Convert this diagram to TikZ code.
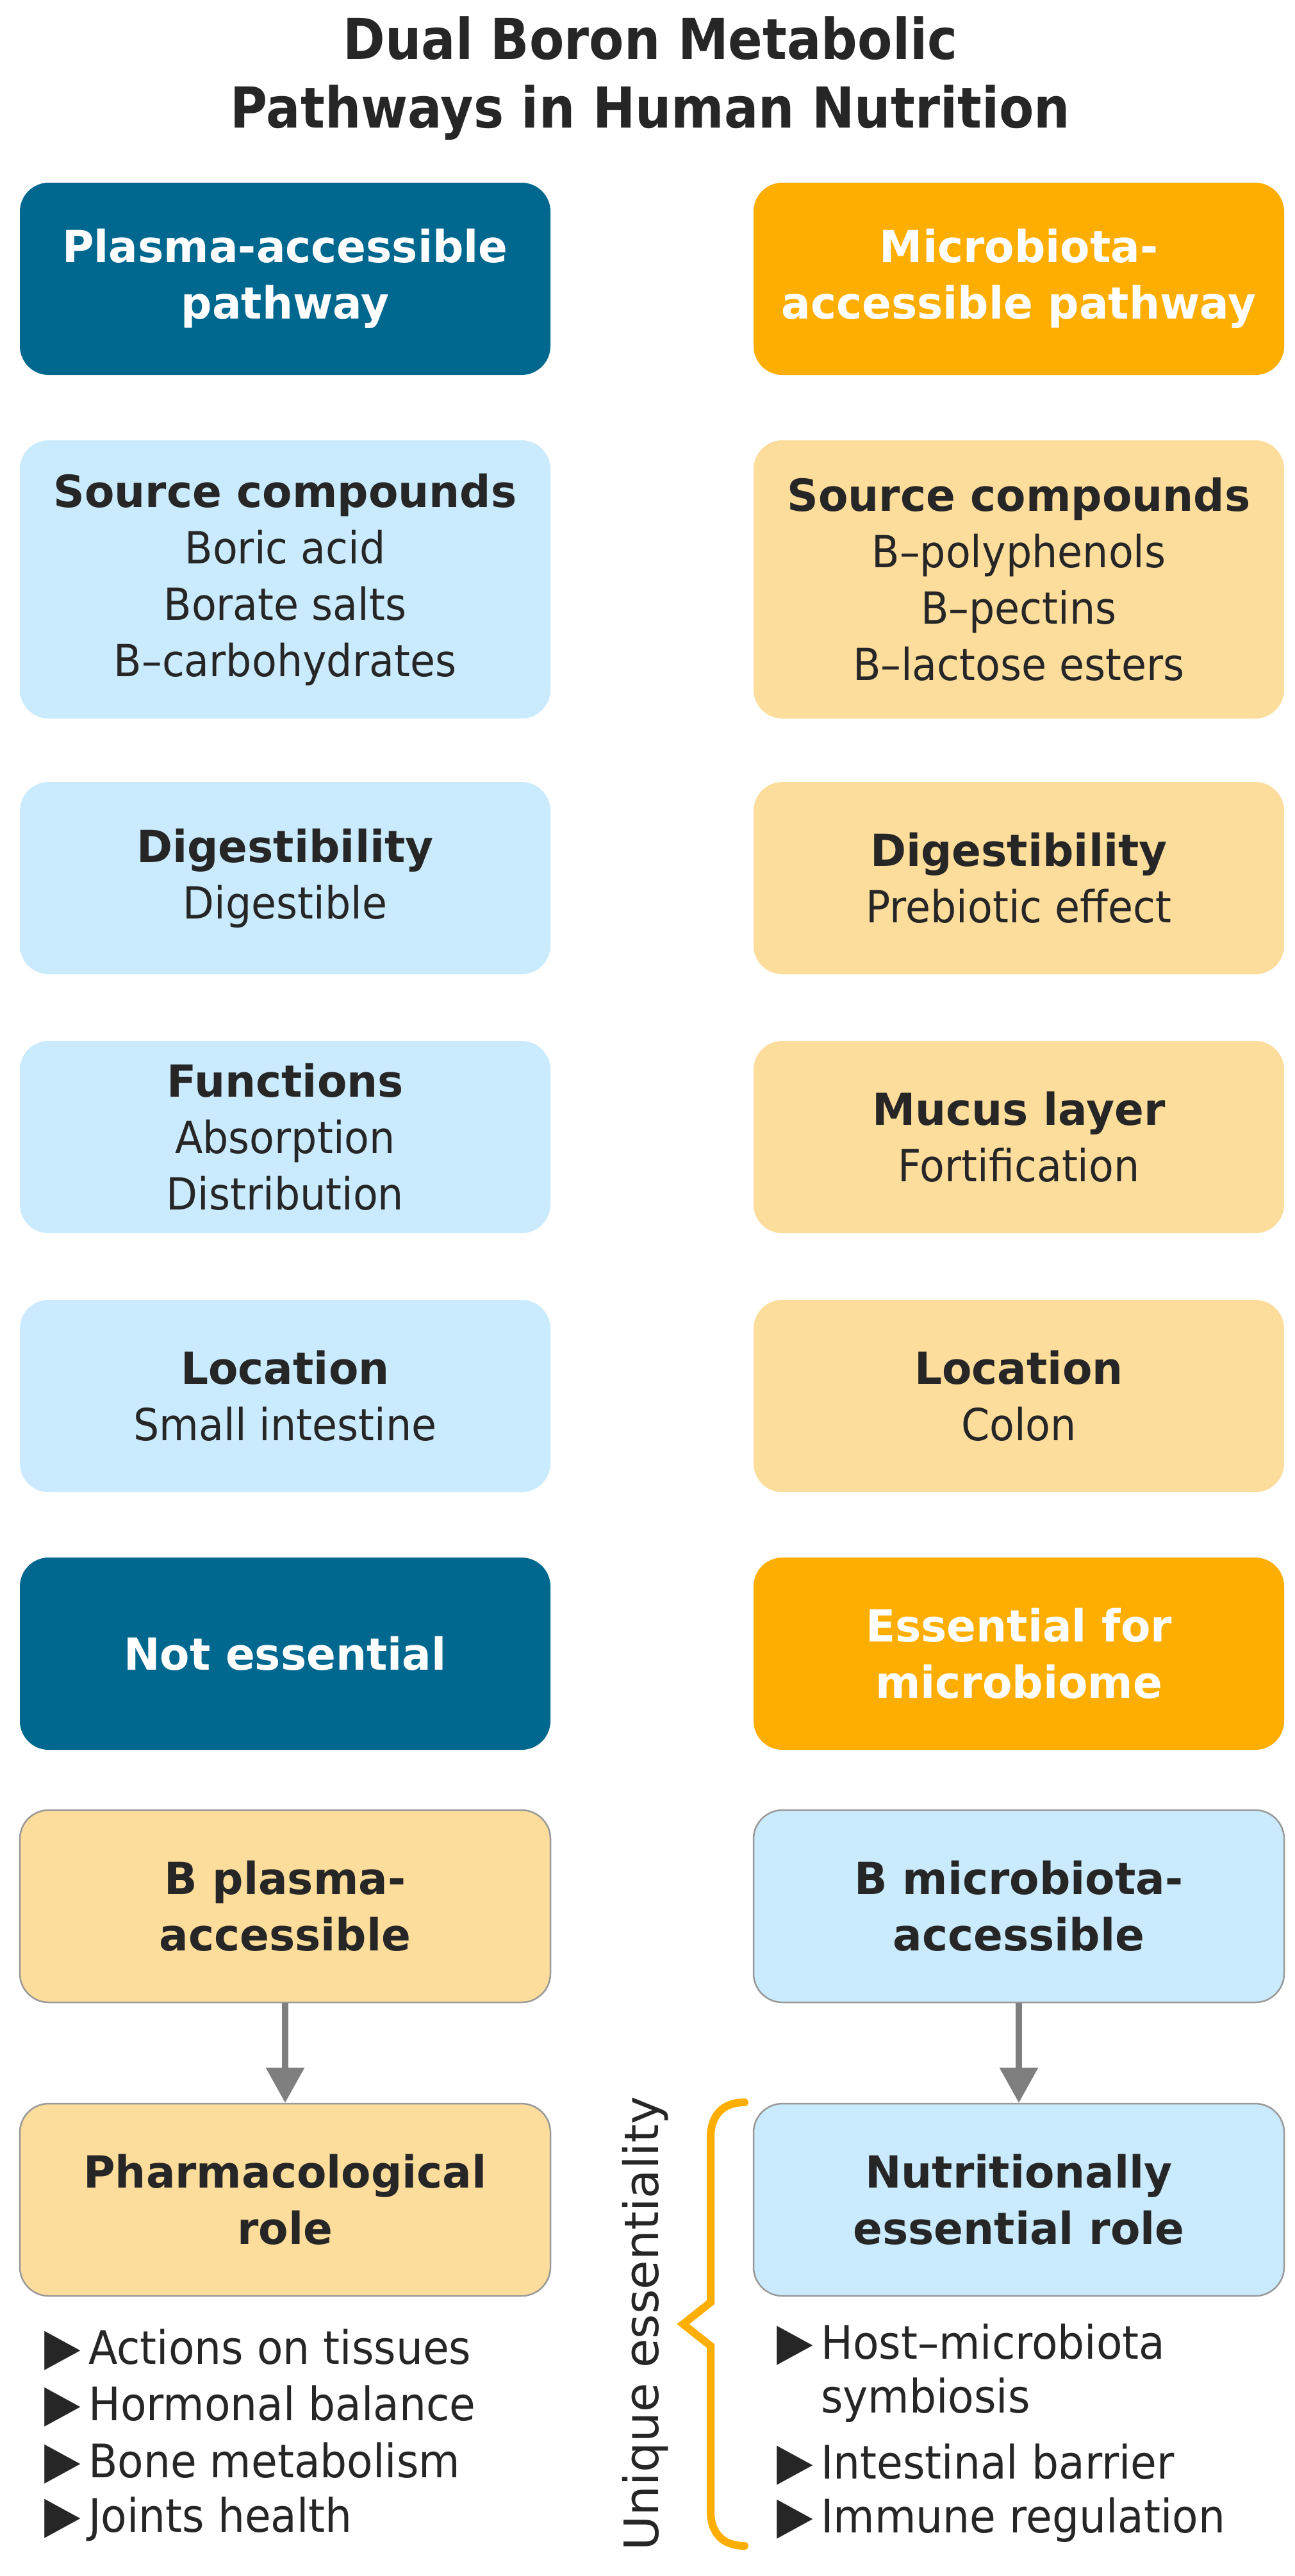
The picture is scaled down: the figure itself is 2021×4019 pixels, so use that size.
\documentclass[tikz,border=0pt]{standalone}
\usepackage{fontspec}
\setmainfont{DejaVu Sans}[UprightFeatures={FakeStretch=0.92},BoldFeatures={FakeStretch=0.98}]
\newfontfamily\titlefont{DejaVu Sans}[FakeStretch=0.9]
\newfontfamily\sidefont{DejaVu Sans}
\usetikzlibrary{arrows.meta}
\definecolor{plasmadark}{HTML}{00678F}
\definecolor{microorange}{HTML}{FEAE00}
\definecolor{plasmalight}{HTML}{CAEBFD}
\definecolor{microlight}{HTML}{FDDD9C}
\definecolor{arrowgray}{HTML}{7F7F7F}
\definecolor{edge}{HTML}{999999}
\definecolor{ink}{HTML}{262626}
\newcommand{\bultri}{\makebox[69pt][l]{\fontsize{80}{80}\selectfont ▶}}

\begin{document}
\begin{tikzpicture}[x=1pt,y=-1pt,>={Triangle[length=55pt,width=58pt]},
    box/.style={rectangle,rounded corners=45pt,minimum width=828pt,minimum height=300pt,inner sep=0pt,align=center,text=ink,font={\fontsize{69}{88}\selectfont}},
    darkbox/.style={box,fill=plasmadark,text=white,font={\fontsize{69}{88}\selectfont\bfseries}},
    orangebox/.style={box,fill=microorange,text=white,font={\fontsize{69}{88}\selectfont\bfseries}},
    bluebox/.style={box,fill=plasmalight},
    sandbox/.style={box,fill=microlight},
    rolebox/.style={draw=edge,line width=2.5pt,font={\fontsize{69}{88}\selectfont\bfseries}},
    item/.style={anchor=base west,inner sep=0pt,text=ink,font={\fontsize{72}{88}\selectfont}},
    flow/.style={->,draw=arrowgray,line width=10pt},
    brace/.style={draw=microorange,line width=12pt,line cap=round}]
    \fill[white] (0,0) rectangle (2021,4019);
    \useasboundingbox (0,0) rectangle (2021,4019);
    % title
    \node[align=center,text=ink,font={\titlefont\bfseries\fontsize{88}{107}\selectfont}] (title) at (1015,122) {Dual Boron Metabolic\\Pathways in Human Nutrition};
    % two columns
    \node[darkbox] (plasma) at (445,435) {Plasma-accessible\\pathway};
    \node[orangebox] (micro) at (1590,435) {Microbiota-\\accessible pathway};
    \node[bluebox,minimum height=434pt] (srcp) at (445,904) {\textbf{Source compounds}\\Boric acid\\Borate salts\\B–carbohydrates};
    \node[sandbox,minimum height=434pt] (srcm) at (1590,904) {\textbf{Source compounds}\\B–polyphenols\\B–pectins\\B–lactose esters};
    \node[bluebox] (digp) at (445,1370) {\textbf{Digestibility}\\Digestible};
    \node[sandbox] (digm) at (1590,1370) {\textbf{Digestibility}\\Prebiotic effect};
    \node[bluebox] (funp) at (445,1774) {\textbf{Functions}\\Absorption\\Distribution};
    \node[sandbox] (mucm) at (1590,1774) {\textbf{Mucus layer}\\Fortification};
    \node[bluebox] (locp) at (445,2178) {\textbf{Location}\\Small intestine};
    \node[sandbox] (locm) at (1590,2178) {\textbf{Location}\\Colon};
    \node[darkbox] (essp) at (445,2580) {Not essential};
    \node[orangebox] (essm) at (1590,2580) {Essential for\\microbiome};
    \node[sandbox,rolebox] (bp) at (445,2974) {B plasma-\\accessible};
    \node[bluebox,rolebox] (bm) at (1590,2974) {B microbiota-\\accessible};
    \node[sandbox,rolebox] (pharm) at (445,3432) {Pharmacological\\role};
    \node[bluebox,rolebox] (nutr) at (1590,3432) {Nutritionally\\essential role};
    \draw[flow] (bp) -- (pharm);
    \draw[flow] (bm) -- (nutr);
    % bullet lists
    \node[item] (act) at (69,3688) {\bultri Actions on tissues};
    \node[item] (horm) at (69,3776) {\bultri Hormonal balance};
    \node[item] (bone) at (69,3865) {\bultri Bone metabolism};
    \node[item] (joint) at (69,3950) {\bultri Joints health};
    \node[item] (host) at (1212,3680) {\bultri Host–microbiota};
    \node[item] (symb) at (1281,3764) {symbiosis};
    \node[item] (barr) at (1212,3867) {\bultri Intestinal barrier};
    \node[item] (immu) at (1212,3951) {\bultri Immune regulation};
    % brace
    \draw[brace] (1162,3280) .. controls (1128,3280) and (1109,3300) .. (1109,3335) -- (1109,3592) -- (1066,3626) -- (1109,3660) -- (1109,3918) .. controls (1109,3952) and (1128,3972) .. (1162,3972);
    \node[rotate=90,inner sep=0pt,text=ink,font={\sidefont\fontsize{74}{74}\selectfont}] (uniq) at (1007,3625) {Unique essentiality};
\end{tikzpicture}
\end{document}
